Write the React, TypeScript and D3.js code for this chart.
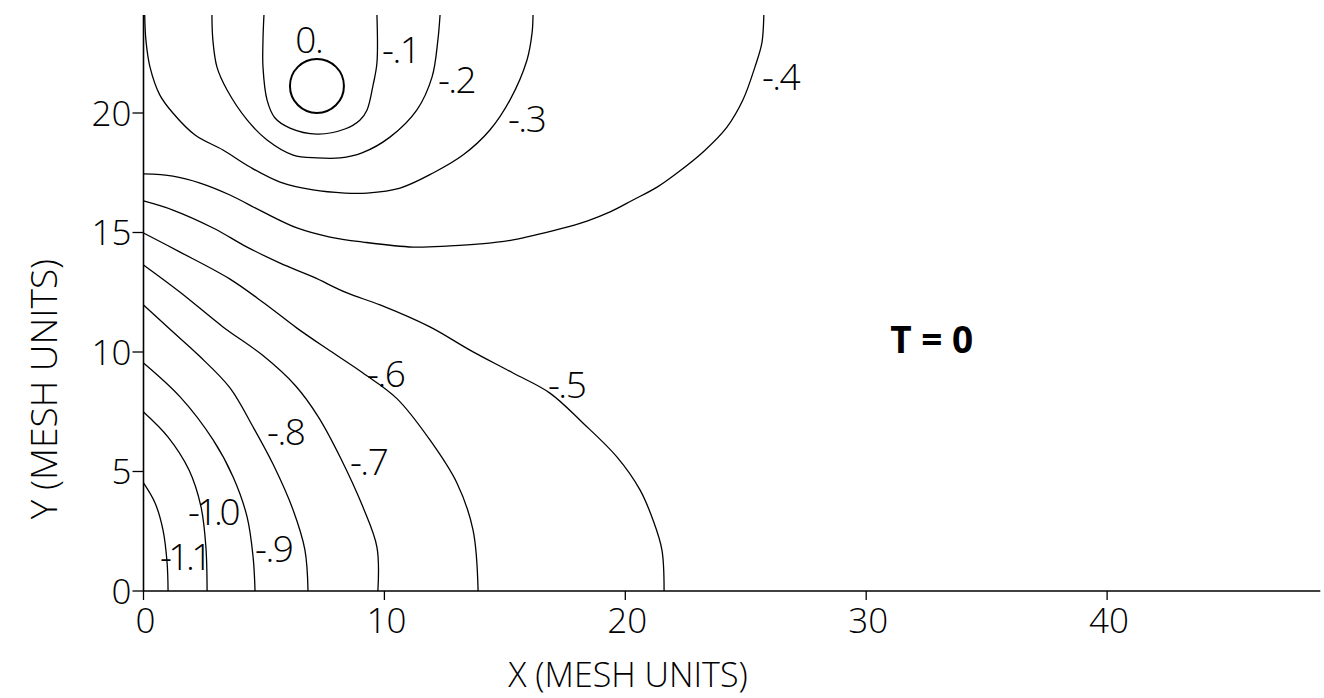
import React from "react";
import * as d3 from "d3";

type Pt = [number, number];

// Axis ticks (mesh units)
const xTicks = [0, 10, 20, 30, 40];
const yTicks = [0, 5, 10, 15, 20];

// Potential contours, each traced as (x, y) in mesh units
const contourM01: Pt[] = [
  [5.0, 24.1], [4.96, 23.05], [4.96, 21.92], [5.13, 20.54], [5.46, 19.79], [6.08, 19.37],
  [7.2, 19.12], [8.36, 19.33], [8.99, 19.71], [9.28, 20.13], [9.53, 21.17], [9.69, 22.09], [9.69, 24.1],
];
const contourM02: Pt[] = [
  [2.84, 24.1], [2.88, 23.05], [3.05, 21.92], [3.47, 20.96], [4.3, 19.71], [5.13, 18.87],
  [6.21, 18.24], [7.2, 18.12], [8.16, 18.12], [9.07, 18.33], [10.23, 18.99], [11.35, 20.13],
  [11.98, 21.51], [12.22, 23.05], [12.31, 24.1],
];
const contourM03: Pt[] = [
  [0.05, 24.1], [0.1, 23.05], [0.27, 21.92], [0.68, 20.75], [1.22, 20.0], [2.14, 19.08],
  [3.3, 18.45], [4.42, 17.74], [5.67, 17.11], [7.04, 16.78], [8.36, 16.65], [9.28, 16.65],
  [10.65, 16.86], [12.02, 17.49], [13.26, 18.24], [14.38, 19.29], [15.21, 20.54], [15.92, 22.22],
  [16.13, 23.35], [16.17, 24.1],
];
const contourM04: Pt[] = [
  [0, 17.45], [1.22, 17.36], [2.35, 17.07], [3.59, 16.57], [4.96, 15.86], [6.37, 15.19],
  [7.74, 14.81], [9.11, 14.6], [11.19, 14.39], [12.72, 14.44], [13.97, 14.52], [15.34, 14.69],
  [17.29, 15.15], [18.41, 15.48], [19.37, 15.86], [20.32, 16.36], [21.32, 16.9], [22.15, 17.49],
  [23.23, 18.37], [24.22, 19.41], [24.88, 20.54], [25.38, 21.92], [25.67, 22.93], [25.75, 24.1],
];
const contourM05: Pt[] = [
  [0, 16.32], [1.22, 15.94], [2.89, 15.19], [4.3, 14.39], [5.67, 13.72], [7.04, 13.14],
  [8.45, 12.47], [9.82, 11.97], [11.89, 11.05], [13.55, 10.08], [15.34, 9.12], [16.87, 8.28],
  [18.24, 7.03], [19.65, 5.61], [20.61, 4.23], [21.15, 2.97], [21.52, 1.72], [21.61, 0],
];
const contourM06: Pt[] = [
  [0, 14.98], [1.52, 14.18], [3.59, 13.05], [5.0, 12.05], [6.37, 11.0], [7.74, 10.05],
  [9.11, 9.12], [10.52, 8.05], [11.89, 6.32], [13.01, 4.52], [13.68, 2.55], [13.89, 0],
];
const contourM07: Pt[] = [
  [0, 13.64], [1.52, 12.5], [3.3, 11.05], [4.96, 9.85], [6.3, 8.6], [7.25, 7.3],
  [8.16, 5.61], [9.11, 3.51], [9.69, 1.84], [9.73, 0],
];
const contourM08: Pt[] = [
  [0, 11.97], [1.1, 10.95], [2.3, 9.85], [3.59, 8.5], [4.55, 6.86], [5.38, 5.3],
  [6.21, 3.39], [6.7, 1.72], [6.83, 0],
];
const contourM09: Pt[] = [
  [0, 9.54], [1.52, 8.12], [2.89, 6.32], [3.72, 4.77], [4.3, 3.1], [4.55, 1.42], [4.63, 0],
];
const contourM10: Pt[] = [
  [0, 7.49], [1.02, 6.44], [1.89, 5.06], [2.39, 3.51], [2.59, 1.84], [2.64, 0],
];
const contourM11: Pt[] = [
  [0, 4.52], [0.48, 3.68], [0.81, 2.55], [0.98, 1.17], [1.02, 0],
];

// The zero-potential contour is a small closed ring
const zeroCenter: Pt = [7.2, 21.13];
const zeroRadius = 1.12;

// Contour level labels and where they sit (mesh units, text start / baseline)
const labelTexts = ["0.", "-.1", "-.2", "-.3", "-.4", "-.5", "-.6", "-.7", "-.8", "-.9", "-1.0", "-1.1"];
const labelAnchors: Pt[] = [
  [6.3, 22.51], [9.9, 22.09], [12.22, 20.84], [15.13, 19.21], [25.67, 20.96], [16.79, 8.08],
  [9.28, 8.54], [8.57, 4.85], [5.13, 6.11], [4.63, 1.21], [1.85, 2.76], [0.68, 0.88],
];

const contourSet = [
  contourM01, contourM02, contourM03, contourM04, contourM05, contourM06,
  contourM07, contourM08, contourM09, contourM10, contourM11,
];

const W = 1324;
const H = 698;
const FONT = "'Open Sans', 'DejaVu Sans', sans-serif";

export default function App() {
  const x = d3.scaleLinear().domain([0, 49]).range([143.5, 143.5 + 49 * 24.09]);
  const y = d3.scaleLinear().domain([0, 24.1]).range([591, 591 - 24.1 * 23.9]);

  const line = d3
    .line<Pt>()
    .x((d) => x(d[0]))
    .y((d) => y(d[1]))
    .curve(d3.curveCatmullRom.alpha(0.5));

  const rPx = x(zeroCenter[0] + zeroRadius) - x(zeroCenter[0]);

  return (
    <svg
      width={W}
      height={H}
      viewBox={`0 0 ${W} ${H}`}
      style={{ position: "absolute", left: 0, top: 0, background: "#fff" }}
    >
      {/* axes */}
      <line x1={x(0)} x2={x(48.85)} y1={y(0)} y2={y(0)} stroke="#000" strokeWidth={1.6} />
      <line x1={x(0)} x2={x(0)} y1={y(0)} y2={y(24.1)} stroke="#000" strokeWidth={1.6} />

      {xTicks.map((t) => (
        <g key={"xt" + t}>
          <line x1={x(t)} x2={x(t)} y1={y(0)} y2={y(0) + 9} stroke="#000" strokeWidth={1.3} />
          <text
            x={x(t) + 2}
            y={633}
            textAnchor="middle"
            fontFamily={FONT}
            fontWeight={300}
            fontSize={35}
            fill="#000"
          >
            {t}
          </text>
        </g>
      ))}
      {yTicks.map((t) => (
        <g key={"yt" + t}>
          <line x1={x(0) - 11} x2={x(0)} y1={y(t)} y2={y(t)} stroke="#000" strokeWidth={1.3} />
          <text
            x={x(0) - 12}
            y={y(t) + 12.5}
            textAnchor="end"
            fontFamily={FONT}
            fontWeight={300}
            fontSize={35}
            fill="#000"
          >
            {t}
          </text>
        </g>
      ))}

      {/* axis titles */}
      <text
        x={628}
        y={687}
        textAnchor="middle"
        fontFamily={FONT}
        fontWeight={300}
        fontSize={34}
        fill="#000"
      >
        X (MESH UNITS)
      </text>
      <text
        transform={`translate(57, 389) rotate(-90)`}
        textAnchor="middle"
        fontFamily={FONT}
        fontWeight={300}
        fontSize={37}
        fill="#000"
      >
        Y (MESH UNITS)
      </text>

      {/* contours */}
      {contourSet.map((pts, i) => (
        <path key={"c" + i} d={line(pts) || ""} fill="none" stroke="#000" strokeWidth={1.3} />
      ))}
      <circle
        cx={x(zeroCenter[0])}
        cy={y(zeroCenter[1])}
        r={rPx}
        fill="none"
        stroke="#000"
        strokeWidth={2}
      />

      {/* contour labels */}
      {labelTexts.map((t, i) => (
        <text
          key={"l" + i}
          x={x(labelAnchors[i][0])}
          y={y(labelAnchors[i][1])}
          fontFamily={FONT}
          fontWeight={300}
          fontSize={37}
          letterSpacing={t.length > 3 ? -3.5 : -1.5}
          fill="#000"
        >
          {t}
        </text>
      ))}

      {/* time stamp */}
      <text
        x={x(31.0)}
        y={y(9.96)}
        fontFamily={FONT}
        fontWeight={700}
        fontSize={37}
        fill="#000"
      >
        T = 0
      </text>
    </svg>
  );
}
